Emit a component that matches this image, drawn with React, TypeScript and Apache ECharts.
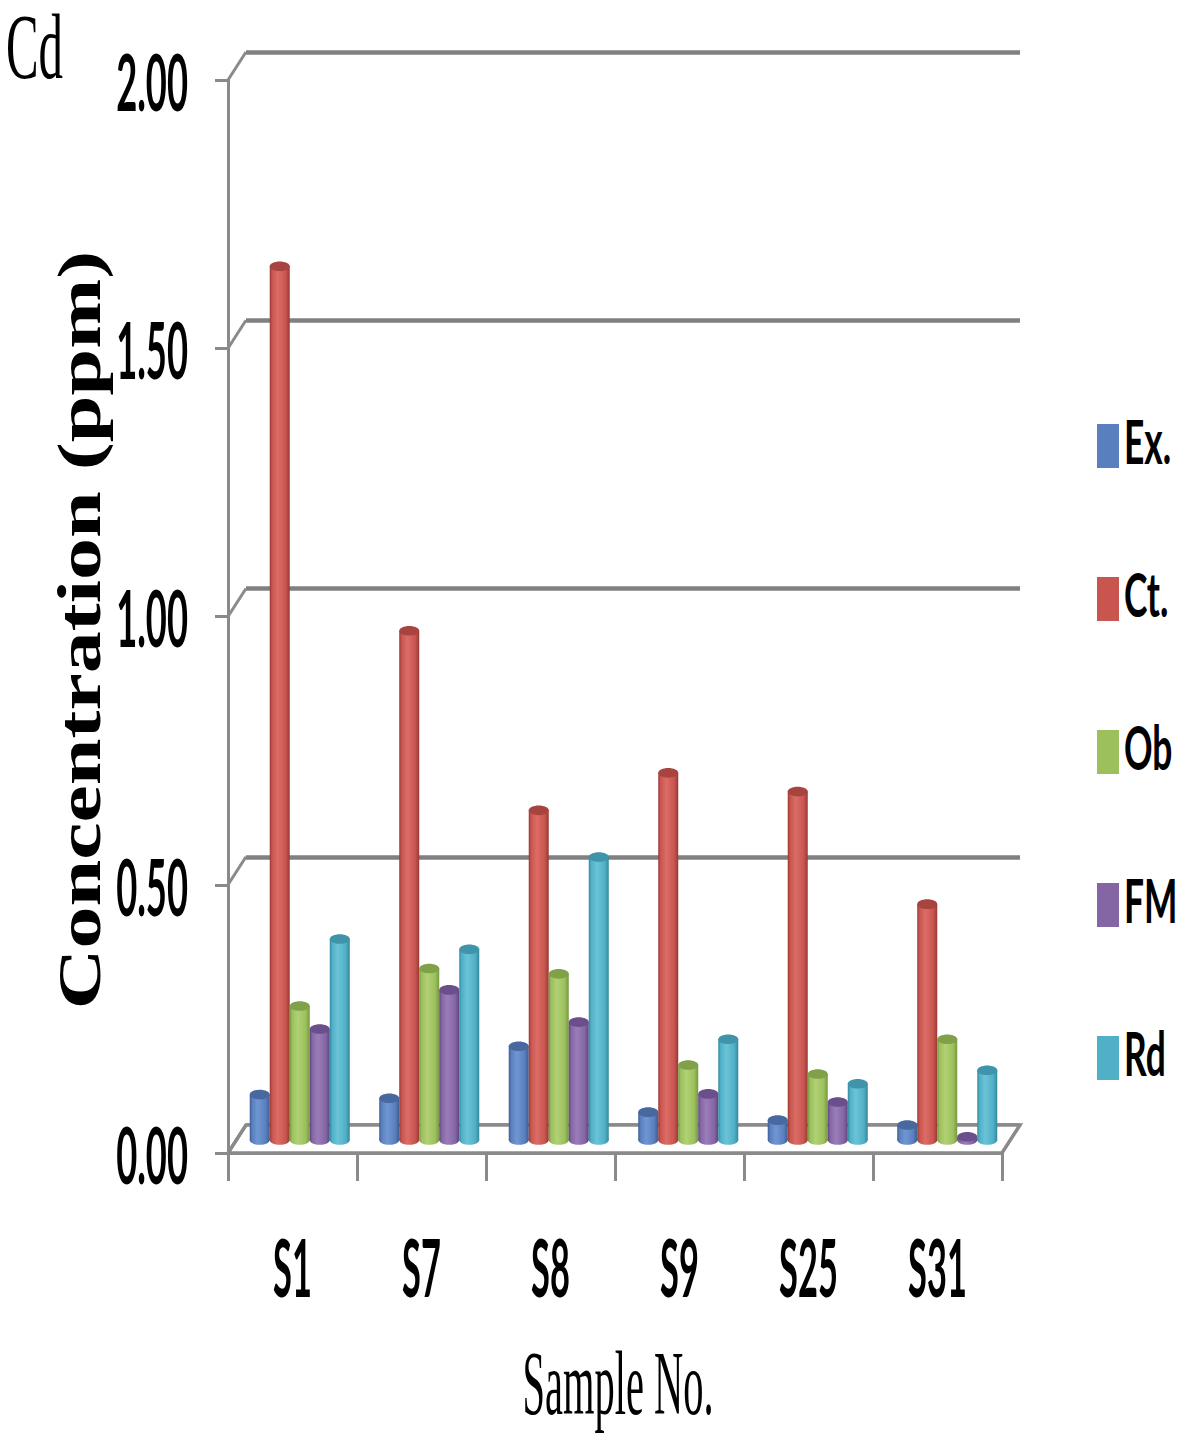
import React, { useEffect, useRef } from 'react';
import * as echarts from 'echarts';

// ---------- data ----------
const CATEGORIES = ['S1', 'S7', 'S8', 'S9', 'S25', 'S31'];
const SERIES_NAMES = ['Ex.', 'Ct.', 'Ob', 'FM', 'Rd'];
const EX = [0.085, 0.078, 0.175, 0.052, 0.037, 0.028];
const CT = [1.63, 0.95, 0.615, 0.685, 0.65, 0.44];
const OB = [0.25, 0.32, 0.31, 0.14, 0.123, 0.188];
const FM = [0.207, 0.28, 0.22, 0.086, 0.071, 0.006];
const RD = [0.375, 0.356, 0.528, 0.188, 0.105, 0.13];
const SERIES_VALUES = [EX, CT, OB, FM, RD];
const Y_TICKS = [0, 0.5, 1, 1.5, 2];
const Y_LABELS = ['0.00', '0.50', '1.00', '1.50', '2.00'];
const Y_MIN = 0;
const Y_MAX = 2;
const Y_INTERVAL = 0.5;
const TITLE = 'Cd';
const Y_NAME = 'Concentration (ppm)';
const X_NAME = 'Sample No.';

// ---------- style ----------
const BASE = ['#5a7fbf', '#c9554f', '#9cc05c', '#8466a4', '#4fb0c7'];
const LIGHT = ['#7096d2', '#db6d66', '#b1d175', '#9a7db8', '#6cc3d7'];
const DARK = ['#3d5c92', '#983834', '#76973f', '#5c457d', '#35879c'];
const TOP = ['#48699f', '#a8443f', '#80a04a', '#6b4f8c', '#3f94aa'];
const AXIS_GRAY = '#8a8a8a';
const GRID_GRAY = '#808080';
const DX = 18;
const DY = 28;
const BOLD_FONT = 'Lato, "Liberation Sans", sans-serif';
const SERIF = '"Liberation Serif", "Times New Roman", serif';
const LEGEND_TOP = 419;
const LEGEND_ICON_H = 44;
const LEGEND_STEP = 153;

function barRenderer(si: number) {
  return (params: any, api: any) => {
    const cat = api.value(0);
    const v = api.value(1);
    const base = api.coord([cat, 0]);
    const top = api.coord([cat, v]);
    const band = api.size([1, 0])[0];
    const w = band * 0.1545;
    const x0 = base[0] - (w * SERIES_NAMES.length) / 2 + si * w;
    const rx = w / 2;
    const ry = w * 0.24;
    const cx = x0 + rx;
    const grad = new echarts.graphic.LinearGradient(0, 0, 1, 0, [
      { offset: 0, color: DARK[si] },
      { offset: 0.12, color: BASE[si] },
      { offset: 0.4, color: LIGHT[si] },
      { offset: 0.8, color: BASE[si] },
      { offset: 1, color: DARK[si] },
    ]);
    return {
      type: 'group',
      children: [
        { type: 'ellipse', shape: { cx, cy: base[1], rx, ry }, style: { fill: grad } },
        {
          type: 'rect',
          shape: { x: x0, y: top[1], width: w, height: Math.max(0, base[1] - top[1]) },
          style: { fill: grad },
        },
        { type: 'ellipse', shape: { cx, cy: top[1], rx, ry }, style: { fill: TOP[si] } },
      ],
    };
  };
}

export default function App() {
  const ref = useRef<HTMLDivElement>(null);

  useEffect(() => {
    document.body.style.margin = '0';
    if (!ref.current) return;
    const chart = echarts.init(ref.current, null, { renderer: 'svg' });

    const barSeries = SERIES_NAMES.map((name, si) => ({
      type: 'custom',
      name,
      xAxisIndex: 2,
      yAxisIndex: 2,
      clip: false,
      z: 5,
      itemStyle: { color: BASE[si] },
      data: SERIES_VALUES[si].map((v, i) => [i, v]),
      renderItem: barRenderer(si),
    }));

    const legendTexts = SERIES_NAMES.map((name, i) => ({
      type: 'text',
      x: 1124,
      y: LEGEND_TOP + LEGEND_ICON_H / 2 + i * LEGEND_STEP,
      scaleX: 0.58,
      style: {
        text: name,
        font: 'bold 61px ' + BOLD_FONT,
        fill: '#000',
        align: 'left',
        verticalAlign: 'middle',
        lineHeight: 50,
      },
    }));

    const option: any = {
      animation: false,
      backgroundColor: '#ffffff',
      grid: [
        { left: 228, top: 80, width: 774, height: 1073 },
        { left: 246, top: 52, width: 774, height: 1073 },
        { left: 235, top: 68, width: 777, height: 1072 },
      ],
      xAxis: [
        {
          gridIndex: 0,
          type: 'category',
          data: CATEGORIES,
          boundaryGap: true,
          axisLine: { show: true, lineStyle: { color: AXIS_GRAY, width: 3 } },
          axisTick: { show: true, length: 28, interval: 0, lineStyle: { color: AXIS_GRAY, width: 3 } },
          axisLabel: { show: false },
          splitLine: { show: false },
        },
        { gridIndex: 1, type: 'category', data: CATEGORIES, show: false },
        { gridIndex: 2, type: 'category', data: CATEGORIES, show: false },
      ],
      yAxis: [
        {
          gridIndex: 0,
          type: 'value',
          min: Y_MIN,
          max: Y_MAX,
          interval: Y_INTERVAL,
          axisLine: { show: true, lineStyle: { color: AXIS_GRAY, width: 3 } },
          axisTick: { show: true, length: 13, lineStyle: { color: AXIS_GRAY, width: 3 } },
          axisLabel: { show: false },
          splitLine: { show: false },
        },
        {
          gridIndex: 1,
          type: 'value',
          min: Y_MIN,
          max: Y_MAX,
          interval: Y_INTERVAL,
          axisLine: { show: false },
          axisTick: { show: false },
          axisLabel: { show: false },
          splitLine: { show: true, lineStyle: { color: GRID_GRAY, width: 4.5 } },
        },
        { gridIndex: 2, type: 'value', min: Y_MIN, max: Y_MAX, interval: Y_INTERVAL, show: false },
      ],
      legend: {
        data: SERIES_NAMES,
        orient: 'vertical',
        left: 1092,
        top: LEGEND_TOP,
        icon: 'rect',
        itemWidth: 22,
        itemHeight: LEGEND_ICON_H,
        itemGap: LEGEND_STEP - LEGEND_ICON_H,
        selectedMode: false,
        formatter: () => '',
        textStyle: { fontSize: 10, lineHeight: 10 },
      },
      graphic: [
        {
          type: 'text',
          x: 6,
          y: 46,
          scaleX: 0.52,
          style: {
            text: TITLE,
            font: '94px ' + SERIF,
            fill: '#000',
            verticalAlign: 'middle',
            align: 'left',
            lineHeight: 64,
          },
        },
        {
          type: 'text',
          x: 80,
          y: 630,
          rotation: Math.PI / 2,
          scaleY: 0.72,
          style: {
            text: Y_NAME,
            font: 'bold 84px ' + SERIF,
            fill: '#000',
            align: 'center',
            verticalAlign: 'middle',
          },
        },
        {
          type: 'text',
          x: 618,
          y: 1383,
          scaleX: 0.44,
          style: { text: X_NAME, font: '92px ' + SERIF, fill: '#000', align: 'center', verticalAlign: 'middle' },
        },
        ...legendTexts,
      ],
      series: [
        {
          type: 'custom',
          name: 'floor',
          xAxisIndex: 0,
          yAxisIndex: 0,
          silent: true,
          clip: false,
          z: 1,
          data: [[0, 0]],
          renderItem: (params: any, api: any) => {
            const cs = params.coordSys;
            const yb = api.coord([0, 0])[1];
            const l = cs.x;
            const r = cs.x + cs.width;
            return {
              type: 'polygon',
              shape: { points: [[l, yb], [r, yb], [r + DX, yb - DY], [l + DX, yb - DY]] },
              style: { fill: '#ffffff', stroke: AXIS_GRAY, lineWidth: 3.5 },
            };
          },
        },
        {
          type: 'custom',
          name: 'connectors',
          xAxisIndex: 0,
          yAxisIndex: 0,
          silent: true,
          clip: false,
          z: 1,
          data: Y_TICKS.map((v) => [0, v]),
          renderItem: (params: any, api: any) => {
            const cs = params.coordSys;
            const y = api.coord([0, api.value(1)])[1];
            return {
              type: 'line',
              shape: { x1: cs.x, y1: y, x2: cs.x + DX, y2: y - DY },
              style: { stroke: AXIS_GRAY, lineWidth: 3 },
            };
          },
        },
        {
          type: 'custom',
          name: 'yLabels',
          xAxisIndex: 0,
          yAxisIndex: 0,
          silent: true,
          clip: false,
          data: Y_TICKS.map((v) => [0, v]),
          renderItem: (params: any, api: any) => {
            const cs = params.coordSys;
            const y = api.coord([0, api.value(1)])[1];
            return {
              type: 'text',
              x: cs.x - 40,
              y,
              scaleX: 0.46,
              style: {
                text: Y_LABELS[params.dataIndex],
                font: 'bold 79px ' + BOLD_FONT,
                fill: '#000',
                align: 'right',
                verticalAlign: 'middle',
              },
            };
          },
        },
        {
          type: 'custom',
          name: 'xLabels',
          xAxisIndex: 0,
          yAxisIndex: 0,
          silent: true,
          clip: false,
          data: CATEGORIES.map((c, i) => [i, 0]),
          renderItem: (params: any, api: any) => {
            const cs = params.coordSys;
            const p = api.coord([api.value(0), 0]);
            return {
              type: 'text',
              x: p[0],
              y: cs.y + cs.height + 113,
              scaleX: 0.43,
              style: {
                text: CATEGORIES[params.dataIndex],
                font: 'bold 80px ' + BOLD_FONT,
                fill: '#000',
                align: 'center',
                verticalAlign: 'middle',
              },
            };
          },
        },
        ...barSeries,
      ],
    };

    chart.setOption(option);
    return () => chart.dispose();
  }, []);

  return <div ref={ref} style={{ width: 1181, height: 1446 }} />;
}
